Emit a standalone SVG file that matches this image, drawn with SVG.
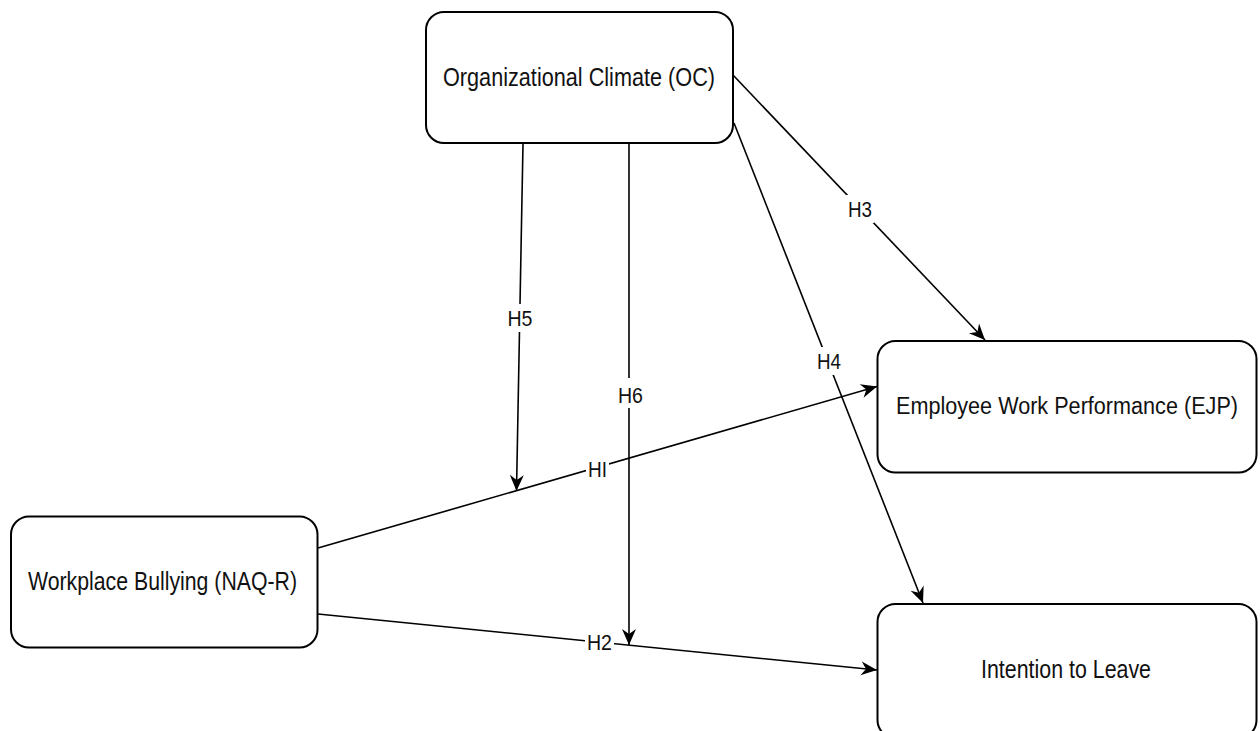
<svg xmlns="http://www.w3.org/2000/svg" width="1260" height="731" viewBox="0 0 1260 731">
<defs>
<marker id="arr" markerUnits="userSpaceOnUse" viewBox="-17 -8 18 16" markerWidth="18" markerHeight="16" refX="0" refY="0" orient="auto">
<path d="M0,0 L-16,-7 L-11,0 L-16,7 Z" fill="#000"/>
</marker>
</defs>
<style>
.box{fill:#fff;stroke:#000;stroke-width:2}
.t{font-family:"Liberation Sans",Arial,sans-serif;font-size:26px;fill:#111;text-anchor:middle}
.e{fill:none;stroke:#000;stroke-width:1.6;marker-end:url(#arr)}
.lb{fill:#fff}
.l{font-family:"Liberation Sans",Arial,sans-serif;font-size:22px;fill:#111;text-anchor:middle}
</style>
<rect width="1260" height="731" fill="#fff"/>
<g id="connectors">
<line class="e" x1="733" y1="75" x2="985" y2="340"/>
<line class="e" x1="734" y1="123" x2="923" y2="603"/>
<line class="e" x1="523" y1="144" x2="516.5" y2="491"/>
<line class="e" x1="629" y1="144" x2="629" y2="645"/>
<line class="e" x1="318" y1="548" x2="877" y2="386.5"/>
<line class="e" x1="318" y1="614" x2="877" y2="670"/>
<rect class="lb" x="846" y="195" width="28" height="28"/>
<text class="l" x="860" y="217" textLength="24" lengthAdjust="spacingAndGlyphs">H3</text>
<rect class="lb" x="815" y="347" width="28" height="28"/>
<text class="l" x="829" y="369" textLength="24" lengthAdjust="spacingAndGlyphs">H4</text>
<rect class="lb" x="506" y="304" width="29" height="28"/>
<text class="l" x="520" y="326" textLength="25" lengthAdjust="spacingAndGlyphs">H5</text>
<rect class="lb" x="616" y="378" width="29" height="30"/>
<text class="l" x="630.5" y="403" textLength="25" lengthAdjust="spacingAndGlyphs">H6</text>
<rect class="lb" x="586" y="458" width="23" height="25"/>
<text class="l" x="597.5" y="477" textLength="19" lengthAdjust="spacingAndGlyphs">HI</text>
<rect class="lb" x="585" y="630" width="29" height="25"/>
<text class="l" x="599.5" y="650" textLength="25" lengthAdjust="spacingAndGlyphs">H2</text>
</g>
<g id="node-oc">
<rect class="box" x="426" y="12" width="307" height="131" rx="18" ry="18"/>
<text class="t" x="579" y="86" textLength="272" lengthAdjust="spacingAndGlyphs">Organizational Climate (OC)</text>
</g>
<g id="node-ejp">
<rect class="box" x="877.5" y="341" width="379" height="131.5" rx="18" ry="18"/>
<text class="t" x="1067" y="414" style="font-size:23px" textLength="342" lengthAdjust="spacingAndGlyphs">Employee Work Performance (EJP)</text>
</g>
<g id="node-itl">
<rect class="box" x="877.5" y="604" width="379" height="134" rx="18" ry="18"/>
<text class="t" x="1066" y="678" textLength="170" lengthAdjust="spacingAndGlyphs">Intention to Leave</text>
</g>
<g id="node-wb">
<rect class="box" x="11" y="516.5" width="306.5" height="131" rx="18" ry="18"/>
<text class="t" x="162.5" y="590" textLength="269" lengthAdjust="spacingAndGlyphs">Workplace Bullying (NAQ-R)</text>
</g>
</svg>
